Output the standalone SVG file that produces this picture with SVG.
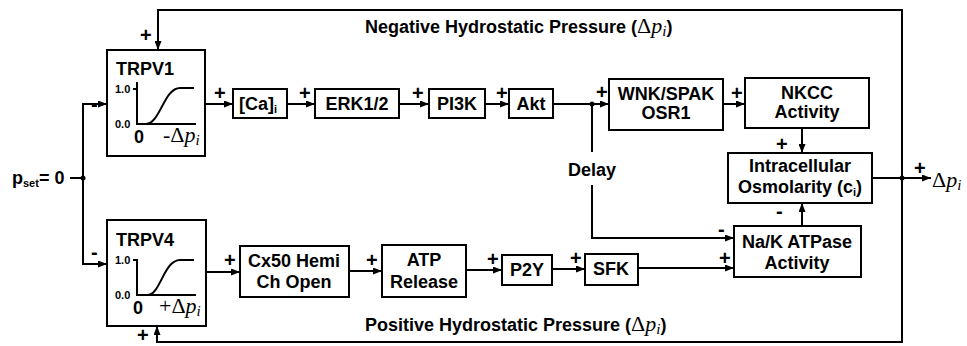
<svg xmlns="http://www.w3.org/2000/svg" width="967" height="346" viewBox="0 0 967 346">
<defs>
<marker id="ah" markerUnits="userSpaceOnUse" markerWidth="9" markerHeight="7" refX="9" refY="3.5" orient="auto">
<path d="M0,0 L9,3.5 L0,7 z" fill="#000"/>
</marker>
<style>
.box{fill:#fff;stroke:#000;stroke-width:2}
.ln{fill:none;stroke:#000;stroke-width:2}
.ar{fill:none;stroke:#000;stroke-width:2;marker-end:url(#ah)}
.t{font-family:"Liberation Sans",Arial,sans-serif;font-weight:bold;font-size:18px;fill:#000}
.c{text-anchor:middle}
.s{font-family:"Liberation Sans",Arial,sans-serif;font-weight:bold;font-size:11px;fill:#000}
.sg{font-family:"Liberation Sans",Arial,sans-serif;font-weight:bold;font-size:20px;fill:#000}
.m{font-family:"Liberation Serif","Times New Roman",serif;font-size:22px;fill:#000}
.mi{font-style:italic}
</style>
</defs>
<rect width="967" height="346" fill="#fff"/>

<g id="connectors">
<path class="ln" d="M70,178 L83,178"/>
<path class="ar" d="M83,178 L83,104 L107,104"/>
<path class="ar" d="M83,178 L83,264 L107,264"/>
<circle cx="83" cy="178" r="2.5" fill="#000"/>
<path class="ar" d="M205,104 L233,104"/>
<path class="ar" d="M287,104 L315,104"/>
<path class="ar" d="M399,104 L429,104"/>
<path class="ar" d="M485,104 L509,104"/>
<path class="ar" d="M553,104 L609,104"/>
<circle cx="592" cy="104" r="2.5" fill="#000"/>
<path class="ar" d="M723,104 L745,104"/>
<path class="ar" d="M802,128 L802,153"/>
<path class="ln" d="M592,104 L592,152"/>
<path class="ar" d="M592,185 L592,238 L734,238"/>
<path class="ar" d="M206,272 L240,272"/>
<path class="ar" d="M349,271 L382,271"/>
<path class="ar" d="M466,270 L502,270"/>
<path class="ar" d="M552,269 L585,269"/>
<path class="ar" d="M638,268 L734,268"/>
<path class="ar" d="M802,226 L802,203"/>
<path class="ar" d="M872,178 L931,178"/>
<circle cx="902" cy="178" r="2.5" fill="#000"/>
<path class="ar" d="M902,178 L902,10 L158,10 L158,50"/>
<path class="ar" d="M902,178 L902,342 L157,342 L157,326"/>
</g>

<g id="pset">
<text x="12" y="184" class="t">p<tspan font-size="11" dy="3">set</tspan><tspan dy="-3">= 0</tspan></text>
</g>

<g id="trpv1">
<rect class="box" x="107" y="50" width="98" height="106"/>
<text x="116" y="75" class="t">TRPV1</text>
<path class="ln" d="M137,82 L137,124 L196,124"/>
<path class="ln" d="M133,89 L137,89"/>
<path class="ln" d="M137,124 L146,124 C160,124 164,88 180,88 L194,88"/>
<text x="115" y="93" class="s">1.0</text>
<text x="115" y="128" class="s">0.0</text>
<text x="134" y="143" class="t">0</text>
<text x="163" y="142" class="m">-Δ<tspan class="mi">p</tspan><tspan class="mi" font-size="15" dy="3">i</tspan></text>
</g>

<g id="trpv4">
<rect class="box" x="107" y="220" width="99" height="106"/>
<text x="116" y="246" class="t">TRPV4</text>
<path class="ln" d="M137,259 L137,295 L196,295"/>
<path class="ln" d="M133,260 L137,260"/>
<path class="ln" d="M137,295 L148,295 C160,295 164,260 180,260 L194,260"/>
<text x="115" y="264" class="s">1.0</text>
<text x="115" y="299" class="s">0.0</text>
<text x="133" y="314" class="t">0</text>
<text x="159" y="313" class="m">+Δ<tspan class="mi">p</tspan><tspan class="mi" font-size="15" dy="3">i</tspan></text>
</g>

<g id="ca">
<rect class="box" x="233" y="89" width="54" height="29"/>
<text x="258" y="110" class="t c">[Ca]<tspan font-size="11" dy="3">i</tspan></text>
</g>
<g id="erk">
<rect class="box" x="315" y="89" width="84" height="29"/>
<text x="357" y="110" class="t c">ERK1/2</text>
</g>
<g id="pi3k">
<rect class="box" x="429" y="89" width="56" height="29"/>
<text x="457" y="110" class="t c">PI3K</text>
</g>
<g id="akt">
<rect class="box" x="509" y="89" width="44" height="29"/>
<text x="531" y="110" class="t c">Akt</text>
</g>
<g id="wnk">
<rect class="box" x="609" y="79" width="114" height="51"/>
<text x="666" y="100" class="t c">WNK/SPAK</text>
<text x="666" y="119" class="t c">OSR1</text>
</g>
<g id="nkcc">
<rect class="box" x="745" y="78" width="124" height="50"/>
<text x="807" y="99" class="t c">NKCC</text>
<text x="807" y="118" class="t c">Activity</text>
</g>
<g id="osm">
<rect class="box" x="728" y="153" width="144" height="50"/>
<text x="800" y="172" class="t c">Intracellular</text>
<text x="800" y="193" class="t c">Osmolarity (c<tspan font-size="11" dy="3">i</tspan><tspan dy="-3">)</tspan></text>
</g>
<g id="nak">
<rect class="box" x="734" y="226" width="127" height="51"/>
<text x="797" y="248" class="t c">Na/K ATPase</text>
<text x="797" y="269" class="t c">Activity</text>
</g>
<g id="cx50">
<rect class="box" x="240" y="246" width="109" height="51"/>
<text x="294" y="267" class="t c">Cx50 Hemi</text>
<text x="294" y="288" class="t c">Ch Open</text>
</g>
<g id="atp">
<rect class="box" x="382" y="245" width="84" height="52"/>
<text x="424" y="266" class="t c">ATP</text>
<text x="424" y="288" class="t c">Release</text>
</g>
<g id="p2y">
<rect class="box" x="502" y="255" width="50" height="30"/>
<text x="527" y="276" class="t c">P2Y</text>
</g>
<g id="sfk">
<rect class="box" x="585" y="254" width="53" height="31"/>
<text x="611" y="275" class="t c">SFK</text>
</g>

<g id="labels">
<text x="592" y="176" class="t c">Delay</text>
<text x="365" y="33" class="t">Negative Hydrostatic Pressure (<tspan class="m" font-weight="normal">Δ<tspan class="mi">p</tspan><tspan class="mi" font-size="15" dy="3">i</tspan></tspan><tspan dy="-3">)</tspan></text>
<text x="365" y="331" class="t">Positive Hydrostatic Pressure (<tspan class="m" font-weight="normal">Δ<tspan class="mi">p</tspan><tspan class="mi" font-size="15" dy="3">i</tspan></tspan><tspan dy="-3">)</tspan></text>
<text x="932" y="187" class="m">Δ<tspan class="mi">p</tspan><tspan class="mi" font-size="15" dy="3">i</tspan></text>
</g>

<g id="signs">
<text x="140" y="42" class="sg">+</text>
<text x="137" y="342" class="sg" font-size="18">+</text>
<text x="91" y="111" class="sg">-</text>
<text x="91" y="259" class="sg">-</text>
<text x="214" y="100" class="sg">+</text>
<text x="299" y="100" class="sg">+</text>
<text x="412" y="100" class="sg">+</text>
<text x="496" y="100" class="sg">+</text>
<text x="596" y="99" class="sg">+</text>
<text x="731" y="100" class="sg">+</text>
<text x="776" y="151" class="sg">+</text>
<text x="914" y="175" class="sg">+</text>
<text x="224" y="267" class="sg">+</text>
<text x="366" y="267" class="sg">+</text>
<text x="487" y="266" class="sg">+</text>
<text x="570" y="265" class="sg">+</text>
<text x="719" y="265" class="sg">+</text>
<text x="718" y="236" class="sg">-</text>
<text x="776" y="218" class="sg">-</text>
</g>
</svg>
